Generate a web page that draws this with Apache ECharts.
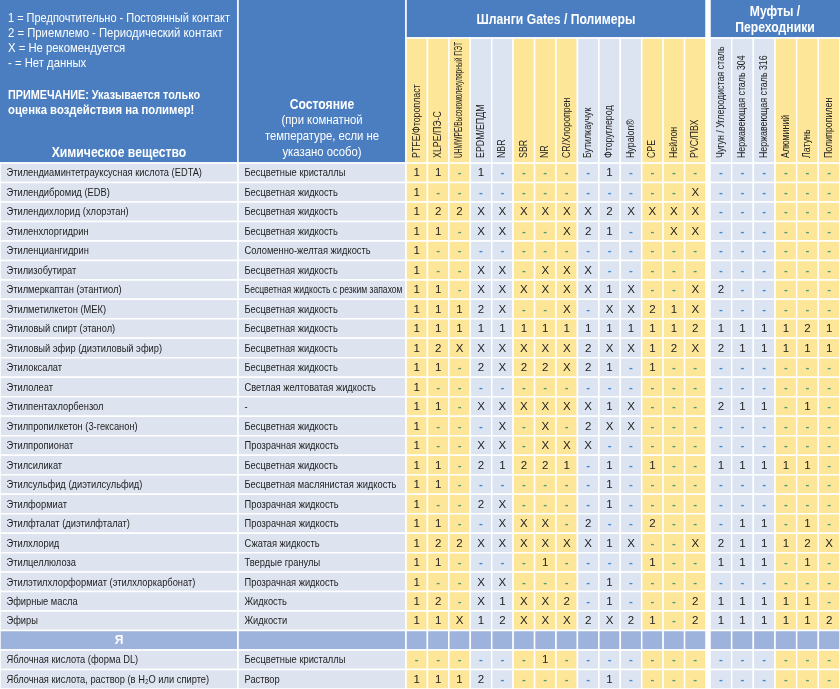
<!DOCTYPE html>
<html><head><meta charset="utf-8">
<script src="https://cdn.jsdelivr.net/npm/echarts@6/dist/echarts.min.js"></script>
<style>html,body{margin:0;padding:0;background:#fff}#c{width:840px;height:689px}</style>
</head><body><div id="c"></div>
<script>
// ---------------- DATA ----------------
const chemicals = [
  'Этилендиаминтетрауксусная кислота (EDTA)',
  'Этилендибромид (EDB)',
  'Этилендихлорид (хлорэтан)',
  'Этиленхлоргидрин',
  'Этиленциангидрин',
  'Этилизобутират',
  'Этилмеркаптан (этантиол)',
  'Этилметилкетон (МЕК)',
  'Этиловый спирт (этанол)',
  'Этиловый эфир (диэтиловый эфир)',
  'Этилоксалат',
  'Этилолеат',
  'Этилпентахлорбензол',
  'Этилпропилкетон (3-гексанон)',
  'Этилпропионат',
  'Этилсиликат',
  'Этилсульфид (диэтилсульфид)',
  'Этилформиат',
  'Этилфталат (диэтилфталат)',
  'Этилхлорид',
  'Этилцеллюлоза',
  'Этилэтилхлорформиат (этилхлоркарбонат)',
  'Эфирные масла',
  'Эфиры',
  'Я',
  'Яблочная кислота (форма DL)',
  'Яблочная кислота, раствор (в H₂O или спирте)'
];
const states = [
  'Бесцветные кристаллы',
  'Бесцветная жидкость',
  'Бесцветная жидкость',
  'Бесцветная жидкость',
  'Соломенно-желтая жидкость',
  'Бесцветная жидкость',
  'Бесцветная жидкость с резким запахом',
  'Бесцветная жидкость',
  'Бесцветная жидкость',
  'Бесцветная жидкость',
  'Бесцветная жидкость',
  'Светлая желтоватая жидкость',
  '-',
  'Бесцветная жидкость',
  'Прозрачная жидкость',
  'Бесцветная жидкость',
  'Бесцветная маслянистая жидкость',
  'Прозрачная жидкость',
  'Прозрачная жидкость',
  'Сжатая жидкость',
  'Твердые гранулы',
  'Прозрачная жидкость',
  'Жидкость',
  'Жидкости',
  '',
  'Бесцветные кристаллы',
  'Раствор'
];
const polymerCols = ['PTFE/Фторопласт','XLPE/ПЭ-С','UHMWPE/Высокомолекулярный ПЭТ','EPDM/ЕПДМ','NBR','SBR','NR',
  'CR/Хлоропрен','Бутилкаучук','Фторуглерод','Hypalon®','CPE','Нейлон','PVC/ПВХ'];
const metalCols = ['Чугун / Углеродистая сталь','Нержавеющая сталь 304','Нержавеющая сталь 316','Алюминий','Латунь','Полипропилен'];
// null = section heading row
const polymerValues = [
  '1 1 - 1 - - - - - 1 - - - -',
  '1 - - - - - - - - - - - - X',
  '1 2 2 X X X X X X 2 X X X X',
  '1 1 - X X - - X 2 1 - - X X',
  '1 - - - - - - - - - - - - -',
  '1 - - X X - X X X - - - - -',
  '1 1 - X X X X X X 1 X - - X',
  '1 1 1 2 X - - X - X X 2 1 X',
  '1 1 1 1 1 1 1 1 1 1 1 1 1 2',
  '1 2 X X X X X X 2 X X 1 2 X',
  '1 1 - 2 X 2 2 X 2 1 - 1 - -',
  '1 - - - - - - - - - - - - -',
  '1 1 - X X X X X X 1 X - - -',
  '1 - - - X - X - 2 X X - - -',
  '1 - - X X - X X X - - - - -',
  '1 1 - 2 1 2 2 1 - 1 - 1 - -',
  '1 1 - - - - - - - 1 - - - -',
  '1 - - 2 X - - - - 1 - - - -',
  '1 1 - - X X X - 2 - - 2 - -',
  '1 2 2 X X X X X X 1 X - - X',
  '1 1 - - - - 1 - - - - 1 - -',
  '1 - - X X - - - - 1 - - - -',
  '1 2 - X 1 X X 2 - 1 - - - 2',
  '1 1 X 1 2 X X X 2 X 2 1 - 2',
  null,
  '- - - - - - 1 - - - - - - -',
  '1 1 1 2 - - - - - 1 - - - -'
];
const metalValues = [
  '- - - - - -',
  '- - - - - -',
  '- - - - - -',
  '- - - - - -',
  '- - - - - -',
  '- - - - - -',
  '2 - - - - -',
  '- - - - - -',
  '1 1 1 1 2 1',
  '2 1 1 1 1 1',
  '- - - - - -',
  '- - - - - -',
  '2 1 1 - 1 -',
  '- - - - - -',
  '- - - - - -',
  '1 1 1 1 1 -',
  '- - - - - -',
  '- - - - - -',
  '- 1 1 - 1 -',
  '2 1 1 1 2 X',
  '1 1 1 - 1 -',
  '- - - - - -',
  '1 1 1 1 1 -',
  '1 1 1 1 1 2',
  null,
  '- - - - - -',
  '- - - - - -'
];
const legendLines = ['1 = Предпочтительно - Постоянный контакт','2 = Приемлемо - Периодический контакт','X = Не рекомендуется','- = Нет данных'];
const noteLines = ['ПРИМЕЧАНИЕ: Указывается только','оценка воздействия на полимер!'];
const chemHeader = 'Химическое вещество';
const stateHeader = ['Состояние','(при комнатной','температуре, если не','указано особо)'];
const polymerGroupTitle = 'Шланги Gates / Полимеры';
const metalGroupTitle = ['Муфты /','Переходники'];

// ---------------- STYLE ----------------
const Y = '#fee698', B = '#dce4f2', TEXTBG = '#dde4f0', SECTION = '#9db3dc', HEAD = '#4a7ec0';
const polyColColors = [Y,Y,Y,B,B,Y,Y,Y,B,B,B,Y,Y,Y];
const metalColColors = [B,B,B,Y,Y,Y];
const FONT = '"Liberation Sans", Arial, sans-serif';
const TOP = 163, TITLE_H = 38;
const ctx = document.createElement('canvas').getContext('2d');
function textW(t, font){ ctx.font = font; return ctx.measureText(t).width; }
function fit(t, font, maxW, cond){ const w = textW(t, font) * cond; return w > maxW ? cond * maxW / w : cond; }
const parsedPoly = polymerValues.map(r => r ? r.split(' ') : null);
const parsedMetal = metalValues.map(r => r ? r.split(' ') : null);
const isSection = i => parsedPoly[i] === null;

function rectEl(x, y, w, h, fill){
  return {type:'rect', shape:{x, y, width:w, height:h}, style:{fill, stroke:'#fff', lineWidth:1.5}};
}
function txt(text, x, y, font, fill, align, scaleX, rotation){
  return {type:'text', x, y, scaleX: scaleX, scaleY: 1, rotation: rotation || 0,
    style:{text, font, fill, align, verticalAlign:'middle', textAlign:align, textVerticalAlign:'middle'}};
}

function textCellRender(kind){
  return function(params, api){
    const i = api.value(1);
    const c = api.coord([0, i]); const s = api.size([1, 1]);
    const x0 = c[0] - s[0]/2, y0 = c[1] - s[1]/2;
    const sec = isSection(i);
    const children = [rectEl(x0, y0, s[0], s[1], sec ? SECTION : TEXTBG)];
    const t = kind === 'chem' ? chemicals[i] : states[i];
    if (sec) {
      if (t) children.push(txt(t, c[0], c[1], 'bold 12px ' + FONT, '#fff', 'center', 1));
    } else {
      const f = '11.5px ' + FONT;
      children.push(txt(t, x0 + 6.5, c[1] + 0.5, f, '#1d1d1d', 'left', fit(t, f, s[0] - 10, 0.81)));
    }
    return {type:'group', children};
  };
}
function valueCellRender(vals, colColors){
  return function(params, api){
    const j = api.value(0), i = api.value(1);
    const c = api.coord([j, i]); const s = api.size([1, 1]);
    const x0 = c[0] - s[0]/2, y0 = c[1] - s[1]/2;
    const row = vals[i];
    const children = [rectEl(x0, y0, s[0], s[1], row ? colColors[j] : SECTION)];
    if (row) {
      const v = row[j];
      const dash = v === '-';
      const fill = dash ? (colColors[j] === Y ? '#4f9a78' : '#3b8bd6') : '#1d1d1d';
      children.push(txt(v, c[0], c[1] + 0.5, (dash ? 'bold ' : '') + '11.5px ' + FONT, fill, 'center', 1));
    }
    return {type:'group', children};
  };
}
function headerRender(names, colColors){
  return function(params, api){
    const j = api.value(0);
    const c = api.coord([j, 0]); const s = api.size([1, 1]);
    const x0 = c[0] - s[0]/2, y0 = c[1] - s[1]/2;
    const f = '10.5px ' + FONT;
    return {type:'group', children:[
      rectEl(x0, y0, s[0], s[1], colColors[j]),
      txt(names[j], c[0], y0 + s[1] - 5, f, '#1d1d1d', 'left', fit(names[j], f, s[1] - 9, 0.84), Math.PI/2)
    ]};
  };
}

const nRows = chemicals.length;
const rowIdx = chemicals.map((_, i) => i);
const grids = [
  {left:0, width:238, top:TOP, bottom:0},
  {left:238, width:168, top:TOP, bottom:0},
  {left:406, width:300, top:TOP, bottom:0},
  {left:710, width:130, top:TOP, bottom:0},
  {left:406, width:300, top:TITLE_H, height:TOP - TITLE_H},
  {left:710, width:130, top:TITLE_H, height:TOP - TITLE_H}
];
const xData = [[''], [''], polymerCols, metalCols, polymerCols, metalCols];
const xAxis = xData.map((d, k) => ({type:'category', gridIndex:k, data:d, show:false}));
const yAxis = grids.map((g, k) => ({type:'category', gridIndex:k, inverse:true, show:false,
  data: k < 4 ? rowIdx : ['h']}));

function cells(cols){ const out = []; for (let i = 0; i < nRows; i++) for (let j = 0; j < cols; j++) out.push([j, i]); return out; }

const series = [
  {type:'custom', xAxisIndex:0, yAxisIndex:0, data: rowIdx.map(i => [0, i]), renderItem: textCellRender('chem')},
  {type:'custom', xAxisIndex:1, yAxisIndex:1, data: rowIdx.map(i => [0, i]), renderItem: textCellRender('state')},
  {type:'custom', xAxisIndex:2, yAxisIndex:2, data: cells(polymerCols.length), renderItem: valueCellRender(parsedPoly, polyColColors)},
  {type:'custom', xAxisIndex:3, yAxisIndex:3, data: cells(metalCols.length), renderItem: valueCellRender(parsedMetal, metalColColors)},
  {type:'custom', xAxisIndex:4, yAxisIndex:4, data: polymerCols.map((_, j) => [j, 0]), renderItem: headerRender(polymerCols, polyColColors)},
  {type:'custom', xAxisIndex:5, yAxisIndex:5, data: metalCols.map((_, j) => [j, 0]), renderItem: headerRender(metalCols, metalColColors)}
];

// header blocks
function gText(text, x, y, font, align, maxW, cond){
  return {type:'text', x, y, scaleX: fit(text, font, maxW, cond || 0.87), silent:true,
    style:{text, font, fill:'#fff', align, verticalAlign:'middle', textAlign:align, textVerticalAlign:'middle'}};
}
const graphic = [
  {type:'rect', shape:{x:-2, y:-2, width:240, height:TOP + 2}, style:{fill:HEAD, stroke:'#fff', lineWidth:1.5}, silent:true},
  {type:'rect', shape:{x:238, y:-2, width:168, height:TOP + 2}, style:{fill:HEAD, stroke:'#fff', lineWidth:1.5}, silent:true},
  {type:'rect', shape:{x:406, y:-2, width:300, height:TITLE_H + 2}, style:{fill:HEAD, stroke:'#fff', lineWidth:1.5}, silent:true},
  {type:'rect', shape:{x:710, y:-2, width:132, height:TITLE_H + 2}, style:{fill:HEAD, stroke:'#fff', lineWidth:1.5}, silent:true}
];
const lf = '13px ' + FONT, bf = 'bold 13px ' + FONT;
legendLines.forEach((t, k) => graphic.push(gText(t, 8, 18 + k * 15.3, lf, 'left', 222)));
noteLines.forEach((t, k) => graphic.push(gText(t, 8, 95 + k * 15.5, bf, 'left', 192)));
graphic.push(gText(chemHeader, 119, 153, 'bold 14px ' + FONT, 'center', 140));
stateHeader.forEach((t, k) => graphic.push(gText(t, 322, 105 + k * 15.7, (k === 0 ? 'bold 14px ' : '13px ') + FONT, 'center', 126)));
graphic.push(gText(polymerGroupTitle, 556, 20, 'bold 14px ' + FONT, 'center', 160));
metalGroupTitle.forEach((t, k) => graphic.push(gText(t, 775, 12 + k * 16, 'bold 14px ' + FONT, 'center', 82)));

const chart = echarts.init(document.getElementById('c'));
chart.setOption({
  backgroundColor:'#fff',
  animation:false,
  grid: grids,
  xAxis, yAxis,
  series,
  graphic
});
</script></body></html>
